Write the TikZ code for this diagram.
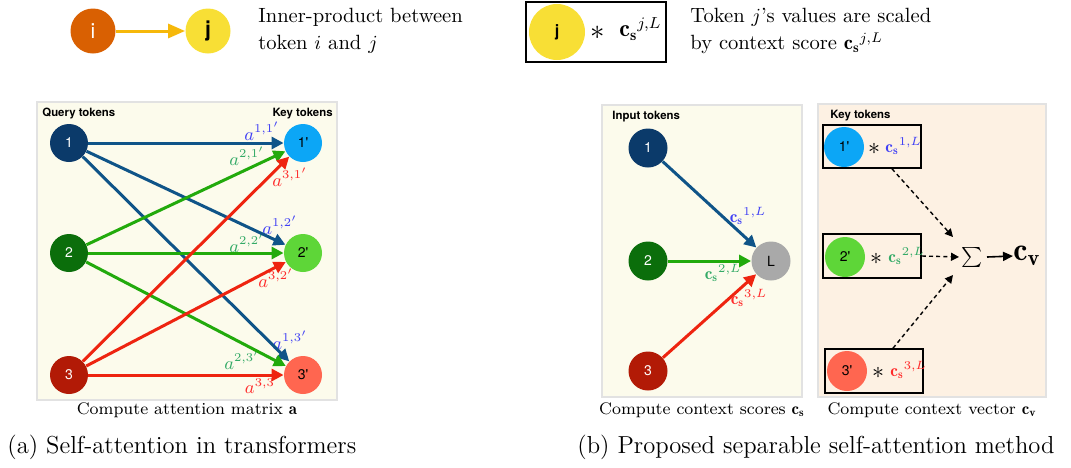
\documentclass[tikz,border=0pt]{standalone}
\usepackage{fontspec}
\newfontfamily\hv{TeX Gyre Heros}
\usetikzlibrary{arrows.meta}
\definecolor{legi}{HTML}{D96002}
\definecolor{legj}{HTML}{F8DF35}
\definecolor{legarr}{HTML}{F6B80A}
\definecolor{qone}{HTML}{0B3A6A}
\definecolor{qtwo}{HTML}{0B6E0B}
\definecolor{qthree}{HTML}{B21A06}
\definecolor{kone}{HTML}{0CA6F6}
\definecolor{ktwo}{HTML}{5ED638}
\definecolor{kthree}{HTML}{FF6650}
\definecolor{gl}{HTML}{A9A9A9}
\definecolor{aone}{HTML}{0F5488}
\definecolor{atwo}{HTML}{22AA0C}
\definecolor{athree}{HTML}{EE2410}
\definecolor{lone}{HTML}{4040F5}
\definecolor{ltwo}{HTML}{33AA66}
\definecolor{lthree}{HTML}{FF2A2A}
\definecolor{cream}{HTML}{FCFBEC}
\definecolor{peach}{HTML}{FDF1E3}
\definecolor{panelborder}{HTML}{E2E2E2}
\tikzset{
  tok/.style={circle, inner sep=0pt, minimum size=19pt, text=white, font=\hv\fontsize{7}{8}\selectfont},
  ktok/.style={tok, text=black},
  panel/.style={draw=panelborder, line width=0.8pt},
  att/.style={line width=1.5pt, -{Triangle[length=6pt,width=6pt]}},
  lab/.style={inner sep=0pt, font=\fontsize{8.6}{9}\selectfont},
  hdr/.style={inner sep=0pt, font=\hv\bfseries\fontsize{5.7}{6}\selectfont},
  subcap/.style={inner sep=0pt, font=\fontsize{8.4}{9}\selectfont},
  bigcap/.style={inner sep=0pt, anchor=west, font=\fontsize{12.3}{12}\selectfont},
  legtext/.style={inner sep=0pt, anchor=west, align=left, font=\fontsize{10.3}{13.5}\selectfont},
  sbox/.style={draw=black, line width=0.8pt},
  dotarr/.style={line width=0.7pt, dash pattern=on 2pt off 1.6pt, -{Triangle[length=4pt,width=4pt]}},
}
\begin{document}
\begin{tikzpicture}[x=0.5pt,y=-0.5pt]
\useasboundingbox (0,0) rectangle (1071,467);

% ---------- legend ----------
\node[tok, fill=legi, minimum size=22.5pt, font=\hv\fontsize{10.5}{10}\selectfont] (li) at (93,31) {i};
\node[tok, fill=legj, text=black, minimum size=22.5pt, font=\hv\bfseries\fontsize{10.5}{10}\selectfont] (lj) at (208,31) {j};
\draw[line width=1.5pt, legarr, -{Triangle[length=8.5pt,width=7pt]}] (li) -- (lj);
\node[legtext] (lt1) at (258,31) {Inner-product between\\token $i$ and $j$};

\node[sbox, minimum width=70pt, minimum height=30pt, inner sep=0pt] (lbox) at (596,32) {};
\node[tok, fill=legj, text=black, minimum size=28pt, font=\hv\bfseries\fontsize{8}{8}\selectfont] (bj) at (557,32) {j};
\node[inner sep=0pt, font=\fontsize{15}{15}\selectfont] (bst) at (598,33) {$\ast$};
\node[inner sep=0pt, anchor=west, font=\fontsize{12}{12}\selectfont] (bcs) at (619,29) {${\mathbf{c}_\mathbf{s}}^{j,L}$};
\node[legtext] (lt2) at (690,31) {Token $j$'s values are scaled\\by context score ${\mathbf{c}_\mathbf{s}}^{j,L}$};

% ---------- panel (a) ----------
\node[panel, fill=cream, minimum width=150pt, minimum height=149pt, inner sep=0pt] (pa) at (187,251) {};
\node[hdr, anchor=west] (qh) at (42,114) {Query tokens};
\node[hdr, anchor=east] (kh) at (333,114) {Key tokens};

\node[lab, text=lone] (a11) at (262,131) {$a^{1,1'}$};
\node[lab, text=ltwo] (a21) at (247,156) {$a^{2,1'}$};
\node[lab, text=lthree] (a31) at (290,177) {$a^{3,1'}$};
\node[lab, text=lone] (a12) at (280,225) {$a^{1,2'}$};
\node[lab, text=ltwo] (a22) at (247,243) {$a^{2,2'}$};
\node[lab, text=lthree] (a32) at (276,278) {$a^{3,2'}$};
\node[lab, text=lone] (a13) at (290,340) {$a^{1,3'}$};
\node[lab, text=ltwo] (a23) at (242,360) {$a^{2,3'}$};
\node[lab, text=lthree] (a33) at (260,386) {$a^{3,3}$};

\node[tok, fill=qone] (q1) at (69,143) {1};
\node[tok, fill=qtwo] (q2) at (69,253) {2};
\node[tok, fill=qthree] (q3) at (69,375) {3};
\node[ktok, fill=kone] (k1) at (303,143) {1'};
\node[ktok, fill=ktwo] (k2) at (303,253) {2'};
\node[ktok, fill=kthree] (k3) at (303,375) {3'};

\draw[att, aone] (q1) -- (k1);
\draw[att, aone] (q1) -- (k2);
\draw[att, aone] (q1) -- (k3);
\draw[att, atwo] (q2) -- (k1);
\draw[att, atwo] (q2) -- (k2);
\draw[att, atwo] (q2) -- (k3);
\draw[att, athree] (q3) -- (k1);
\draw[att, athree] (q3) -- (k2);
\draw[att, athree] (q3) -- (k3);

\node[subcap] (capa) at (187,410) {Compute attention matrix $\mathbf{a}$};
\node[bigcap] (suba) at (7,447) {(a) Self-attention in transformers};

% ---------- panel (b) left ----------
\node[panel, fill=cream, minimum width=100pt, minimum height=146pt, inner sep=0pt] (pbl) at (702,251) {};
\node[hdr, anchor=west] (ih) at (612,117) {Input tokens};
\node[tok, fill=qone, minimum size=19.5pt] (s1) at (648,148) {1};
\node[tok, fill=qtwo, minimum size=19.5pt] (s2) at (648,261) {2};
\node[tok, fill=qthree, minimum size=19.5pt] (s3) at (648,371) {3};
\node[ktok, fill=gl, minimum size=19.5pt] (sl) at (771,261) {L};
\draw[att, aone] (s1) -- (sl);
\draw[att, atwo] (s2) -- (sl);
\draw[att, athree] (s3) -- (sl);
\node[lab, text=lone] (c1) at (748,216) {${\mathbf{c}_\mathbf{s}}^{1,L}$};
\node[lab, text=ltwo] (c2) at (723,273) {${\mathbf{c}_\mathbf{s}}^{2,L}$};
\node[lab, text=lthree] (c3) at (749,298) {${\mathbf{c}_\mathbf{s}}^{3,L}$};
\node[subcap] (capb1) at (702,410) {Compute context scores $\mathbf{c_s}$};

% ---------- panel (b) right ----------
\node[panel, fill=peach, minimum width=114pt, minimum height=146.5pt, inner sep=0pt] (pbr) at (932,250.5) {};
\node[hdr, anchor=west] (kh2) at (830,116) {Key tokens};

\node[sbox, minimum width=49pt, minimum height=21.5pt, inner sep=0pt] (b1) at (872,146.5) {};
\node[sbox, minimum width=49pt, minimum height=22pt, inner sep=0pt] (b2) at (872,256) {};
\node[sbox, minimum width=49pt, minimum height=22pt, inner sep=0pt] (b3) at (874,371) {};

\node[ktok, fill=kone, minimum size=20pt] (v1) at (844,147) {1'};
\node[ktok, fill=ktwo, minimum size=20pt] (v2) at (845,257) {2'};
\node[ktok, fill=kthree, minimum size=20pt] (v3) at (847,371) {3'};
\node[inner sep=0pt, font=\fontsize{12.5}{12}\selectfont] (st1) at (874,149) {$\ast$};
\node[inner sep=0pt, font=\fontsize{12.5}{12}\selectfont] (st2) at (876,259) {$\ast$};
\node[inner sep=0pt, font=\fontsize{12.5}{12}\selectfont] (st3) at (878,373) {$\ast$};
\node[lab, anchor=west, text=lone] (vc1) at (885,146) {${\mathbf{c}_\mathbf{s}}^{1,L}$};
\node[lab, anchor=west, text=ltwo] (vc2) at (888,256) {${\mathbf{c}_\mathbf{s}}^{2,L}$};
\node[lab, anchor=west, text=lthree] (vc3) at (890,370) {${\mathbf{c}_\mathbf{s}}^{3,L}$};

\node[inner sep=1pt, font=\fontsize{13.5}{13}\selectfont] (sig) at (972,257) {$\sum$};
\node[inner sep=0pt, anchor=west, font=\fontsize{16}{16}\selectfont] (cv) at (1013,256) {$\mathbf{c_v}$};
\coordinate (f1) at (892,0);
\coordinate (f3) at (893,0);
\coordinate (t1) at (953,237);
\coordinate (t3) at (953,275);
\coordinate (sigout) at (987,257);
\draw[dotarr] (b1.south -| f1) -- (t1);
\draw[dotarr] (b2.east) -- (sig.west);
\draw[dotarr] (b3.north -| f3) -- (t3);
\draw[line width=0.8pt, -{Triangle[length=5pt,width=4.5pt]}] (sigout) -- (cv.west);
\node[subcap] (capb2) at (932,410) {Compute context vector $\mathbf{c_v}$};
\node[bigcap] (subb) at (577,447) {(b) Proposed separable self-attention method};
\end{tikzpicture}
\end{document}
